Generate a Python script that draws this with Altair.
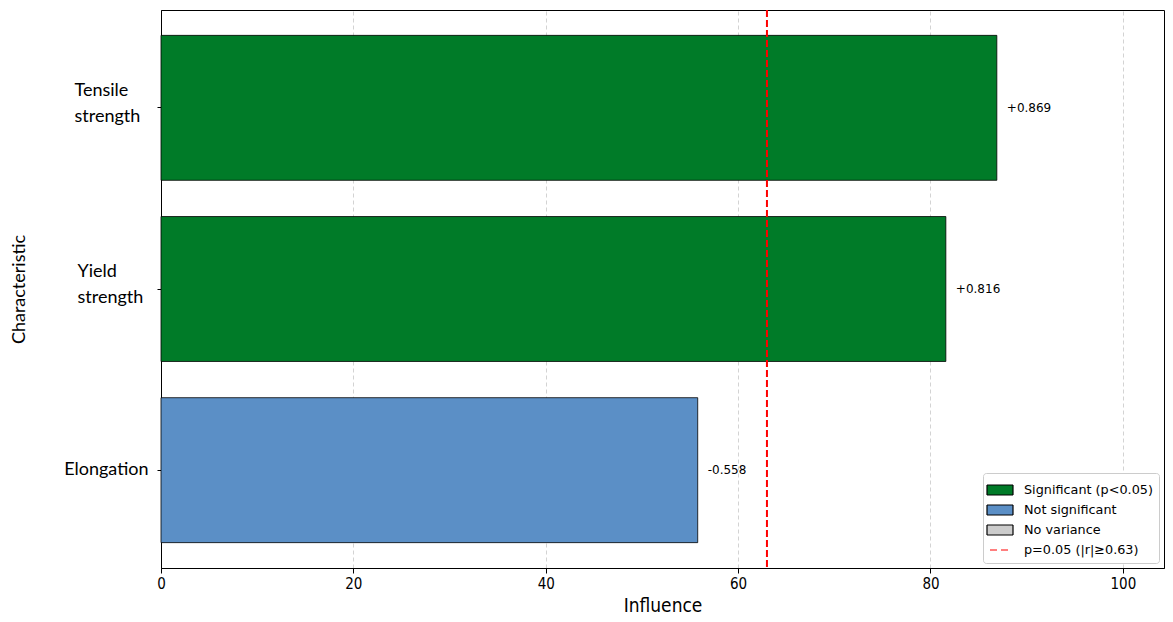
import altair as alt
import pandas as pd

characteristics = ["Tensile strength", "Yield strength", "Elongation"]
r_values = [0.869, 0.816, -0.558]
influence = [86.9, 81.6, 55.8]
status = ["Significant (p<0.05)", "Significant (p<0.05)", "Not significant"]
value_labels = ["+0.869", "+0.816", "-0.558"]

legend_domain = ["Significant (p<0.05)", "Not significant", "No variance", "p=0.05 (|r|≥0.63)"]
legend_fills = ["#007b28", "#5b8fc6", "#cccccc", "#ff0000"]
legend_strokes = ["#000000", "#000000", "#000000", "#ff0000"]
RECT = "M-1.3,-0.5H1.3V0.5H-1.3Z"
legend_shapes = [RECT, RECT, RECT, "stroke"]
legend_dashes = [[1, 0], [1, 0], [1, 0], [7, 4]]
legend_widths = [1.2, 1.2, 1.2, 2.2]
threshold = [63.0]
x_ticks = [0, 20, 40, 60, 80, 100]
x_max = 104.28

df = pd.DataFrame({
    "name": characteristics,
    "r": r_values,
    "influence": influence,
    "status": status,
    "label": value_labels,
})
thr = pd.DataFrame({"t": threshold})

LABEL_FONT = "Lato"
NUM_FONT = "Liberation Sans Narrow, DejaVu Sans Condensed, Roboto, DejaVu Sans"

multi = "indexof(datum.label, ' ') > 0"

x_enc = alt.X(
    "influence:Q",
    scale=alt.Scale(domain=[0, x_max], nice=False, zero=True),
    axis=alt.Axis(
        title="Influence", values=x_ticks, format="d", grid=True,
        gridDash=[4, 3], gridColor="#c8c8c8", gridWidth=0.8,
        tickSize=5, labelPadding=3, labelFontSize=15, labelFont=NUM_FONT,
        labelFlush=False,
        titleFont=NUM_FONT, titleFontSize=19, titleFontWeight="normal",
        titlePadding=5, labelColor="black", titleColor="black",
        domainColor="black", tickColor="black",
    ),
)
y_enc = alt.Y(
    "name:N",
    sort=characteristics,
    scale=alt.Scale(paddingInner=0.2, paddingOuter=0.14),
    axis=alt.Axis(
        title="Characteristic", labelExpr="split(datum.label, ' ')",
        labelFont=LABEL_FONT, labelFontSize=18, labelLineHeight=26,
        tickSize=4, labelColor="black",
        labelAlign={"condition": {"test": multi, "value": "left"}, "value": "right"},
        labelPadding={"condition": [{"test": "datum.label == 'Tensile strength'", "value": 83},
                                    {"test": "datum.label == 'Yield strength'", "value": 80}],
                      "value": 9},
        labelOffset={"condition": {"test": multi, "value": -17}, "value": 0},
        titleFont=LABEL_FONT, titleFontSize=18, titleFontWeight="normal",
        titleColor="black", titlePadding=35, grid=False,
        domainColor="black", tickColor="black",
    ),
)

legend = alt.Legend(
    title=None, orient="bottom-right", offset=5,
    fillColor="white", strokeColor="#cccccc", cornerRadius=3, padding=6,
    labelFont="DejaVu Sans", labelFontSize=12.8, labelColor="black",
    symbolSize=400, rowPadding=1, labelOffset=13, symbolOpacity=1,
)

bars = alt.Chart(df).mark_bar(stroke="black", strokeWidth=0.8).encode(
    x=x_enc,
    y=y_enc,
    fill=alt.Fill("status:N", scale=alt.Scale(domain=legend_domain, range=legend_fills), legend=legend),
)

# empty layer that only shapes the merged legend symbols
legend_layer = alt.Chart(df).transform_filter("datum.influence < 0").mark_point(
    size=400, opacity=1
).encode(
    x="influence:Q",
    y=alt.Y("name:N", sort=characteristics),
    fill=alt.Fill("status:N", scale=alt.Scale(domain=legend_domain, range=legend_fills), legend=legend),
    stroke=alt.Stroke("status:N", scale=alt.Scale(domain=legend_domain, range=legend_strokes), legend=legend),
    shape=alt.Shape("status:N", scale=alt.Scale(domain=legend_domain, range=legend_shapes), legend=legend),
    strokeDash=alt.StrokeDash("status:N", scale=alt.Scale(domain=legend_domain, range=legend_dashes), legend=legend),
    strokeWidth=alt.StrokeWidth("status:O", scale=alt.Scale(domain=legend_domain, range=legend_widths), legend=legend),
)

rule = alt.Chart(thr).mark_rule(color="#ff0000", strokeDash=[7, 3], strokeWidth=2).encode(
    x=alt.X("t:Q")
)

text = alt.Chart(df).mark_text(
    align="left", baseline="middle", dx=10, font="DejaVu Sans", fontSize=12, color="black"
).encode(x="influence:Q", y=alt.Y("name:N", sort=characteristics), text="label:N")

chart = alt.layer(bars, legend_layer, rule, text).properties(
    width=1003, height=558,
    background="white",
    autosize=alt.AutoSizeParams(type="none"),
    padding={"left": 153, "top": 2, "right": 1, "bottom": 50},
).configure_view(stroke="black", strokeWidth=1)

chart.save("out.html", embed_options={"renderer": "svg", "actions": False})
